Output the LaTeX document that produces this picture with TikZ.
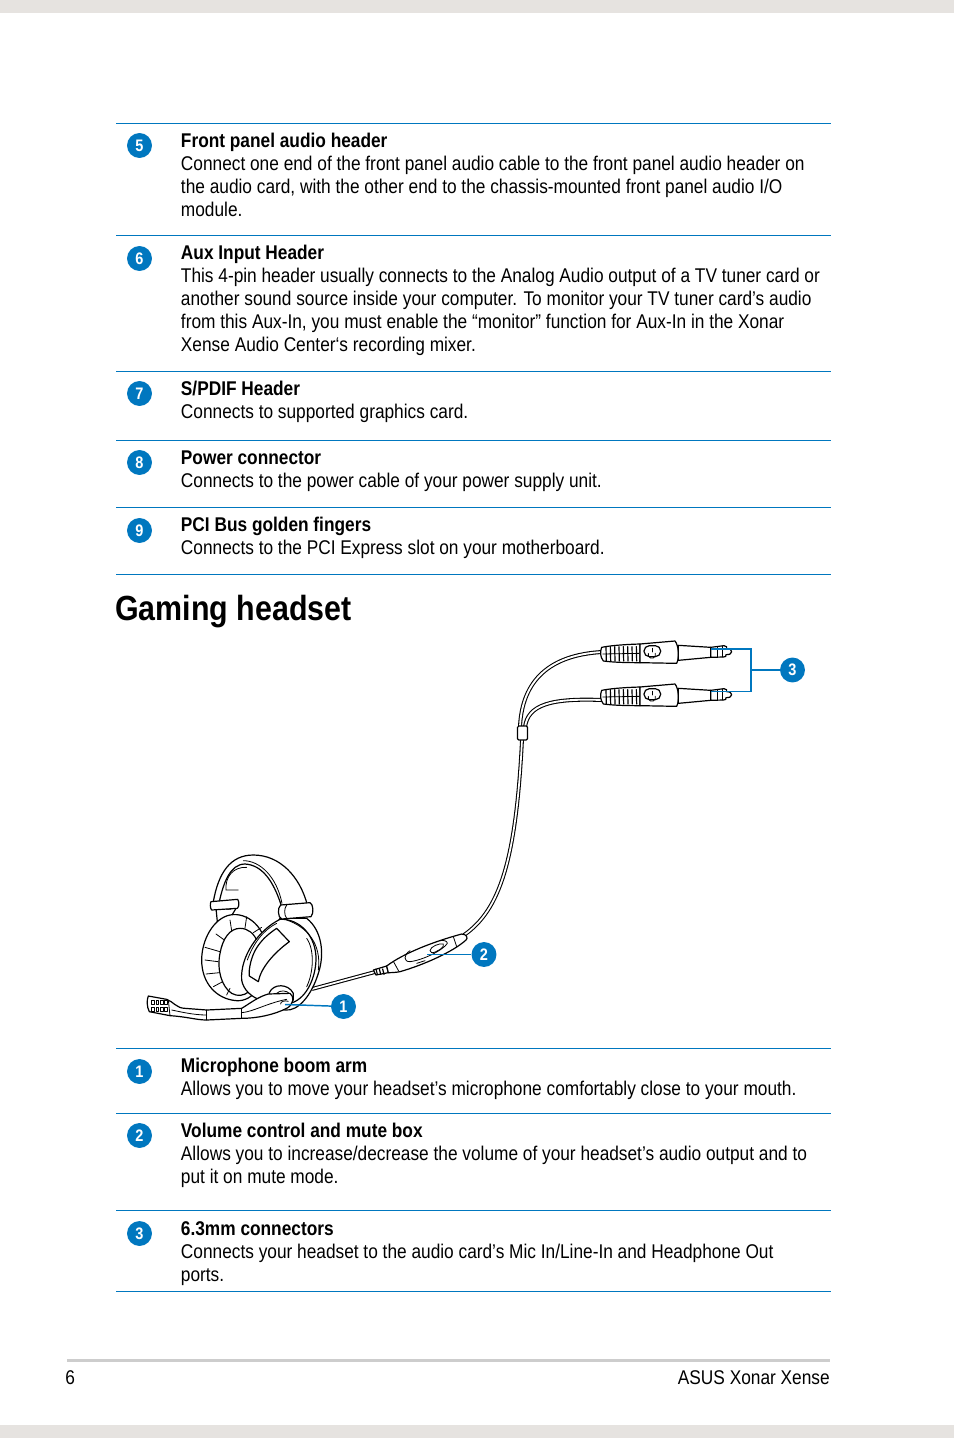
\documentclass[tikz,border=0pt]{standalone}
\usepackage{fontspec}
\setmainfont[FakeStretch=0.87]{Liberation Sans}
\definecolor{asusblue}{HTML}{0077BF}
\definecolor{bargray}{HTML}{E6E3E0}
\definecolor{footgray}{HTML}{CDCDCD}
\newcommand{\bodyfont}{\fontsize{14.9}{17.25}\selectfont}
\newcommand{\plugshape}{%
  % grip
  \draw[ink,fill=white] (305,52) .. controls (340,45) and (390,43) .. (420,42) -- (420,98) .. controls (380,98) and (340,97) .. (310,93) .. controls (300,80) and (300,65) .. (305,52) -- cycle;
  \foreach \gx in {318,331,344,357,370,383,396,409} {\draw[ink] (\gx,50) -- (\gx+1,93);}
  \draw[thin ink] (308,72) -- (418,70);
  % body
  \draw[ink,fill=white] (420,42) -- (525,33) .. controls (535,45) and (540,80) .. (530,100) -- (420,98) -- cycle;
  \draw[ink,rounded corners=4] (432,47) rectangle (482,80);
  \draw[thin ink] (445,70) arc[start angle=200,end angle=-20,radius=11];
  \draw[thin ink] (457,55) -- (457,66);
  % shaft
  \draw[ink,fill=white] (535,46) -- (632,52) -- (632,82) -- (535,91) -- cycle;
  \draw[ink,fill=white] (632,52) -- (672,47) .. controls (680,48) and (682,52) .. (680,56) .. controls (690,56) and (695,60) .. (695,65) .. controls (695,72) and (688,74) .. (678,74) .. controls (680,78) and (676,82) .. (670,81) -- (632,82) -- cycle;
  \draw[thin ink] (652,50) -- (652,81);
  \draw[thin ink] (666,48) -- (666,81);
}
\tikzset{
  ink/.style={line width=0.9pt,draw=black,line cap=round,line join=round},
  thin ink/.style={line width=0.6pt,draw=black,line cap=round,line join=round},
  sep rule/.style={draw=asusblue,line width=0.75pt},
  lead/.style={draw=asusblue,line width=1.1pt},
  badge/.style={circle,fill=asusblue,draw=none,minimum size=18.7pt,inner sep=0pt,text=white,font=\fontsize{12.5}{13}\selectfont\bfseries},
  body/.style={anchor=north west,inner sep=0pt,align=left,font=\bodyfont},
  foot/.style={inner sep=0pt,font=\bodyfont},
}
\begin{document}
\begin{tikzpicture}[x=0.75pt,y=-0.75pt]
\useasboundingbox (0,0) rectangle (954,1438);
\fill[bargray] (0,0) rectangle (954,13);
\fill[bargray] (0,1425) rectangle (954,1438);

% separators
\foreach \ry in {123.5,235.5,371.5,440.5,507.5,574.5,1048.5,1113.5,1210.5,1291.5}
  {\draw[sep rule] (116,\ry) -- (831,\ry);}

% upper list
\node[badge] (b5) at (139.5,145.5) {5};
\node[body] (t5) at (180.7,133) {\textbf{Front panel audio header}\\Connect one end of the front panel audio cable to the front panel audio header on\\the audio card, with the other end to the chassis-mounted front panel audio I/O\\module.};
\node[badge] (b6) at (139.5,258.5) {6};
\node[body] (t6) at (180.7,245.3) {\textbf{Aux Input Header}\\This 4-pin header usually connects to the Analog Audio output of a TV tuner card or\\another sound source inside your computer. To monitor your TV tuner card’s audio\\from this Aux-In, you must enable the “monitor” function for Aux-In in the Xonar\\Xense Audio Center‘s recording mixer.};
\node[badge] (b7) at (139.5,393.5) {7};
\node[body] (t7) at (180.7,380.6) {\textbf{S/PDIF Header}\\Connects to supported graphics card.};
\node[badge] (b8) at (139.5,462.5) {8};
\node[body] (t8) at (180.7,450.4) {\textbf{Power connector}\\Connects to the power cable of your power supply unit.};
\node[badge] (b9) at (139.5,530.5) {9};
\node[body] (t9) at (180.7,516.6) {\textbf{PCI Bus golden fingers}\\Connects to the PCI Express slot on your motherboard.};

\node[anchor=base west,inner sep=0pt,font=\fontsize{26.2}{30}\selectfont\bfseries] (title) at (115,620) {Gaming headset};

% lower list
\node[badge] (c1) at (139.5,1071.5) {1};
\node[body] (u1) at (180.7,1058) {\textbf{Microphone boom arm}\\Allows you to move your headset’s microphone comfortably close to your mouth.};
\node[badge] (c2) at (139.5,1135.5) {2};
\node[body] (u2) at (180.7,1122.8) {\textbf{Volume control and mute box}\\Allows you to increase/decrease the volume of your headset’s audio output and to\\put it on mute mode.};
\node[badge] (c3) at (139.5,1233.5) {3};
\node[body] (u3) at (180.7,1221.4) {\textbf{6.3mm connectors}\\Connects your headset to the audio card’s Mic In/Line-In and Headphone Out\\ports.};

% footer
\draw[draw=footgray,line width=2.2pt] (67,1360.5) -- (830,1360.5);
\node[foot,anchor=base west] (pg) at (65,1384) {6};
\node[foot,anchor=base east] (ft) at (830,1384) {ASUS Xonar Xense};

% long cable
\draw[line width=2.9pt,black,line cap=butt] (375,972) -- (312,989);
\draw[line width=1.3pt,white] (375,972) -- (312,989);
\draw[line width=2.9pt,black,line cap=butt] (464,935) .. controls (500,910) and (516,860) .. (522,740);
\draw[line width=1.3pt,white] (464,935) .. controls (500,910) and (516,860) .. (522,740);

% y cable
\draw[line width=3pt,black] (520,727) .. controls (522,680) and (550,655) .. (602,652);
\draw[line width=1.4pt,white] (520,727) .. controls (522,680) and (550,655) .. (602,652);
\draw[line width=3pt,black] (525,727) .. controls (528,705) and (550,698) .. (602,700);
\draw[line width=1.4pt,white] (525,727) .. controls (528,705) and (550,698) .. (602,700);
\draw[ink,fill=white,rounded corners=1] (517.5,726) rectangle (527.5,740);

% plugs (zoom-2 coordinates)
\begin{scope}[shift={(500,630)},x=0.25pt,y=-0.25pt]
  \plugshape
\end{scope}
\begin{scope}[shift={(500,673)},x=0.25pt,y=-0.25pt]
  \plugshape
\end{scope}

% volume box (zoom-3 coordinates)
\begin{scope}[shift={(360,920)},x=0.25pt,y=-0.25pt]
  \draw[ink,fill=white] (40,150) -- (80,138) -- (85,158) -- (48,165) -- cycle;
  \foreach \gx in {48,58,68} {\draw[ink] (\gx,147) -- (\gx+4,163);}
  \draw[ink,fill=white] (80,138) .. controls (130,100) and (220,65) .. (305,42) .. controls (320,42) and (325,55) .. (318,60) .. controls (280,95) and (190,135) .. (120,155) .. controls (105,158) and (90,158) .. (85,158) -- cycle;
  \draw[thin ink] (100,124) -- (116,153);
  \draw[thin ink] (280,50) -- (290,80);
  \draw[thin ink] (150,92) .. controls (130,105) and (130,125) .. (150,125) .. controls (190,120) and (250,90) .. (262,70) .. controls (262,62) and (250,60) .. (240,62);
  \draw[thin ink] (210,92) .. controls (210,80) and (240,68) .. (250,72) .. controls (258,80) and (225,100) .. (215,98) -- cycle;
  \draw[thin ink] (170,130) -- (195,122);
\end{scope}

% headset (zoom-1 coordinates)
\begin{scope}[shift={(130,840)},x=0.25pt,y=-0.25pt]
  % headband
  \draw[ink,fill=white] (250,185) .. controls (265,100) and (300,45) .. (370,45) .. controls (450,45) and (510,110) .. (532,195) -- (455,200) .. controls (430,120) and (395,75) .. (345,72) .. controls (300,72) and (280,130) .. (268,185) -- cycle;
  \draw[thin ink] (456,190) .. controls (440,110) and (390,62) .. (340,62);
  \draw[thin ink] (325,150) -- (288,150) .. controls (285,110) and (310,80) .. (350,82);
  % left bracket
  \draw[ink,fill=white] (258,205) -- (262,245) -- (300,235) -- (318,205) -- cycle;
  \draw[thin ink] (288,195) .. controls (290,185) and (300,185) .. (302,195) -- (302,208) -- (288,208) -- cycle;
  \draw[ink,fill=white] (243,185) -- (323,178) .. controls (328,185) and (328,200) .. (322,205) -- (245,210) .. controls (240,205) and (240,190) .. (243,185) -- cycle;
  % left cushion
  \draw[ink,fill=white] (300,225) .. controls (350,215) and (410,260) .. (410,340) .. controls (410,430) and (370,485) .. (320,482) .. controls (260,478) and (215,430) .. (215,360) .. controls (215,300) and (250,235) .. (300,225) -- cycle;
  \draw[ink] (330,265) .. controls (380,265) and (400,330) .. (390,390) .. controls (380,450) and (340,480) .. (305,460) .. controls (275,440) and (260,390) .. (270,340) .. controls (278,295) and (300,265) .. (330,265) -- cycle;
  \foreach \xa/\ya/\xb/\yb in {300/240/305/272, 258/282/283/300, 225/322/270/335, 225/360/264/365, 228/402/268/398, 250/440/278/425, 290/465/300/445, 350/230/345/264, 395/262/370/278}
    {\draw[thin ink] (\xa,\ya) -- (\xb,\yb);}
  % right cup
  \draw[ink,fill=white] (530,235) .. controls (575,270) and (585,340) .. (565,400) .. controls (545,465) and (505,515) .. (465,510) .. controls (400,500) and (360,440) .. (350,400) -- (450,235) -- cycle;
  \draw[ink,fill=white] (450,238) .. controls (510,235) and (560,290) .. (558,360) .. controls (556,420) and (525,480) .. (480,490) .. controls (430,500) and (345,480) .. (335,420) .. controls (330,350) and (385,270) .. (450,238) -- cycle;
  \draw[thin ink] (470,240) .. controls (530,260) and (575,310) .. (565,390);
  \draw[thin ink] (530,295) .. controls (555,330) and (550,400) .. (530,440);
  \draw[thin ink] (440,250) .. controls (400,270) and (370,310) .. (352,360);
  \draw[ink,fill=white] (440,265) .. controls (395,295) and (365,330) .. (358,390) -- (358,408) -- (385,425) .. controls (392,385) and (430,340) .. (478,305) -- (440,265) -- cycle;
  % right hinge
  \draw[ink,fill=white] (452,195) -- (540,188) .. controls (550,192) and (552,220) .. (543,230) -- (455,237) .. controls (443,232) and (442,203) .. (452,195) -- cycle;
  \draw[thin ink] (470,195) .. controls (462,205) and (462,225) .. (470,235);
  % boom pivot
  \draw[ink,fill=white] (418,458) .. controls (430,430) and (475,430) .. (490,460) -- (490,480) -- (420,470) -- cycle;
  \draw[thin ink] (440,460) .. controls (450,450) and (470,450) .. (480,462);
  % boom
  \draw[ink,fill=white] (55,468) -- (110,478) .. controls (130,485) and (140,505) .. (165,505) -- (230,510) -- (335,505) .. controls (360,490) and (385,470) .. (415,462) -- (480,460) .. controls (495,470) and (490,495) .. (470,505) .. controls (430,525) and (380,535) .. (335,535) -- (230,540) .. controls (200,540) and (170,530) .. (120,527) -- (58,515) .. controls (50,500) and (50,480) .. (55,468) -- cycle;
  \draw[thin ink] (230,510) -- (230,540);
  \draw[thin ink] (335,505) -- (335,535);
  \draw[thin ink] (125,510) .. controls (150,515) and (190,525) .. (230,525);
  \draw[thin ink] (335,518) .. controls (370,515) and (410,490) .. (470,478);
  \draw[thin ink] (115,480) -- (120,527);
  \foreach \mx in {65,78,91,104} {\draw[thin ink] (\mx,481) rectangle ++(8,12); \draw[thin ink] (\mx,503) rectangle ++(8,12);}
  \draw[thin ink] (452,492) .. controls (450,485) and (465,480) .. (475,484);
\end{scope}

% callouts
\node[badge] (n1) at (343.5,1006.5) {1};
\coordinate (a1) at (285,1004.5);
\draw[lead] (n1) -- (a1);
\node[badge] (n2) at (484,954.5) {2};
\coordinate (a2) at (427,954.5);
\draw[lead] (n2) -- (a2);
\node[badge] (n3) at (792.5,670) {3};
\coordinate (a3) at (711,649);
\coordinate (a4) at (711,691.5);
\coordinate (m3) at (751,670);
\draw[lead] (a3) -| (m3) |- (a4);
\draw[lead] (n3) -- (m3);
\end{tikzpicture}
\end{document}
